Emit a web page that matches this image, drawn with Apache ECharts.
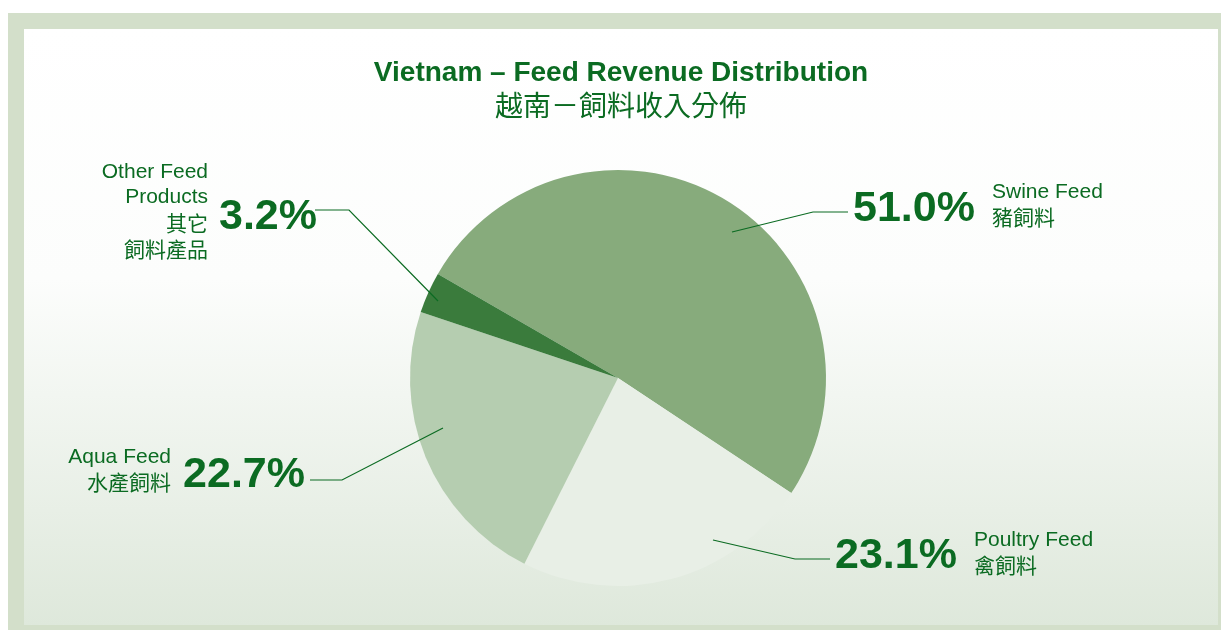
<!DOCTYPE html>
<html>
<head>
<meta charset="utf-8">
<title>Vietnam – Feed Revenue Distribution</title>
<script src="https://cdn.jsdelivr.net/npm/echarts@6/dist/echarts.min.js"></script>
<style>
  html, body { margin: 0; padding: 0; background: #fff; }
  #chart { width: 1221px; height: 630px; }
</style>
</head>
<body>
<div id="chart"></div>
<script>
// 数据
var categories = ['Swine Feed', 'Poultry Feed', 'Aqua Feed', 'Other Feed\nProducts'];
var categoriesZh = ['豬飼料', '禽飼料', '水產飼料', '其它\n飼料產品'];
var shares = [51.0, 23.1, 22.7, 3.2];

// 扇区颜色
var sliceColors = ['#87ab7c', '#e8efe6', '#b5cdb0', '#3a7b3c'];
var green = '#0b6b22';

// 百分比标签和引导线的位置（像素）
var pctSpots = [
  { x: 853, y: 209, align: 'left',  line: [[732, 232], [813, 212], [848, 212]] },
  { x: 835, y: 556, align: 'left',  line: [[713, 540], [795, 559], [830, 559]] },
  { x: 305, y: 475, align: 'right', line: [[443, 428], [342, 480], [310, 480]] },
  { x: 317, y: 217, align: 'right', line: [[438, 301], [349, 210], [315, 210]] }
];
// 名称标签的位置
var nameSpots = [
  { x: 992, y: 205, align: 'left' },
  { x: 974, y: 553, align: 'left' },
  { x: 171, y: 470, align: 'right' },
  { x: 208, y: 211, align: 'right' }
];

// 饼图公共设置
var pieCenter = [618, 378];
var pieRadius = 208;

function hiddenData() {
  return categories.map(function (name, i) {
    return { name: name, value: shares[i], itemStyle: { color: 'rgba(0,0,0,0)' } };
  });
}

var chart = echarts.init(document.getElementById('chart'));

var option = {
  backgroundColor: '#ffffff',
  animation: false,
  // 外框和渐变底色
  graphic: [
    { type: 'rect', z: -10, shape: { x: 8, y: 13, width: 1213, height: 617 }, style: { fill: '#d3dfca' } },
    {
      type: 'rect', z: -9,
      shape: { x: 24, y: 29, width: 1194, height: 596 },
      style: {
        fill: new echarts.graphic.LinearGradient(0, 0, 0, 1, [
          { offset: 0, color: '#ffffff' },
          { offset: 0.42, color: '#fcfdfc' },
          { offset: 1, color: '#dee8db' }
        ])
      }
    }
  ],
  title: {
    text: 'Vietnam – Feed Revenue Distribution',
    subtext: '越南－飼料收入分佈',
    left: 616,
    top: 54,
    textAlign: 'center',
    itemGap: 4,
    textStyle: { color: green, fontFamily: 'Liberation Sans', fontWeight: 'bold', fontSize: 28 },
    subtextStyle: { color: green, fontFamily: 'Noto Sans CJK TC', fontSize: 28 }
  },
  series: [
    {
      // 扇区
      name: 'slices',
      type: 'pie',
      z: 1,
      center: pieCenter,
      radius: pieRadius,
      startAngle: 150,
      silent: true,
      data: categories.map(function (name, i) {
        return { name: name, value: shares[i], itemStyle: { color: sliceColors[i] } };
      }),
      label: { show: false },
      labelLine: { show: false }
    },
    {
      // 透明的同一个饼：百分比 + 引导线（画在扇区上面）
      name: 'share',
      type: 'pie',
      z: 5,
      center: pieCenter,
      radius: pieRadius,
      startAngle: 150,
      avoidLabelOverlap: false,
      silent: true,
      data: hiddenData(),
      label: {
        show: true,
        position: 'outside',
        formatter: function (p) { return p.value.toFixed(1) + '%'; },
        color: green,
        fontFamily: 'Liberation Sans',
        fontWeight: 'bold',
        fontSize: 43
      },
      labelLine: { show: true, lineStyle: { color: green, width: 1.2 } },
      labelLayout: function (p) {
        var s = pctSpots[p.dataIndex];
        return { x: s.x, y: s.y, align: s.align, verticalAlign: 'middle', labelLinePoints: s.line };
      }
    },
    {
      // 透明的同一个饼：名称
      name: 'names',
      type: 'pie',
      z: 5,
      center: pieCenter,
      radius: pieRadius,
      startAngle: 150,
      avoidLabelOverlap: false,
      silent: true,
      data: hiddenData(),
      label: {
        show: true,
        position: 'outside',
        formatter: function (p) {
          var en = categories[p.dataIndex].split('\n').map(function (t) { return '{en|' + t + '}'; });
          var zh = categoriesZh[p.dataIndex].split('\n').map(function (t) { return '{zh|' + t + '}'; });
          return en.concat(zh).join('\n');
        },
        rich: {
          en: { color: green, fontFamily: 'Liberation Sans', fontSize: 21, lineHeight: 25 },
          zh: { color: green, fontFamily: 'Noto Sans CJK TC', fontSize: 21, lineHeight: 26 }
        }
      },
      labelLine: { show: false },
      labelLayout: function (p) {
        var s = nameSpots[p.dataIndex];
        return { x: s.x, y: s.y, align: s.align, verticalAlign: 'middle' };
      }
    }
  ]
};

chart.setOption(option);
</script>
</body>
</html>
